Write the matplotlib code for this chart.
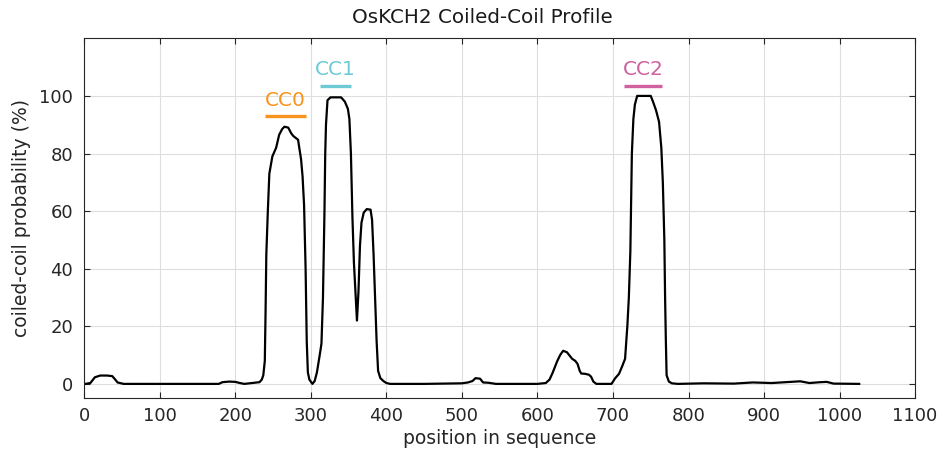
import numpy as np
import matplotlib
matplotlib.use("Agg")
import matplotlib.pyplot as plt

plt.rcParams['font.family'] = ['DejaVu Sans']

# coiled-coil probability profile
position = [1, 8, 14, 21, 30, 37, 41, 44, 52, 100, 150, 178, 183, 192, 200, 206, 212, 222, 232,
            235, 237, 239, 240, 241, 243, 245, 249, 254, 258, 262, 265, 270, 274, 277, 283, 287,
            289, 291, 293, 294.5, 296, 298, 302, 305, 308, 312, 314, 316, 318, 319, 320, 322, 326,
            340, 345, 349, 351, 353, 355, 357, 359, 361, 363, 365, 367, 370, 374, 379, 381, 383,
            385, 387, 389, 392, 396, 400, 405, 450, 500, 508, 514, 518, 524, 528, 535, 545, 600,
            611, 616, 620, 626, 630, 634, 639, 642, 646, 650, 653, 656, 658, 663, 668, 671, 674,
            678, 698, 703, 708, 712, 716, 719, 721, 723, 725, 727, 729, 732, 750, 753, 757, 761,
            764, 766, 768, 769, 770, 771, 774, 778, 786, 820, 860, 885, 910, 930, 948, 960, 975,
            983, 992, 1026]
probability = [0, 0.3, 2.3, 2.9, 2.9, 2.7, 1.5, 0.5, 0, 0, 0, 0, 0.6, 0.8, 0.7, 0.3, 0, 0.3, 0.6,
               1.5, 3, 8, 25, 45, 60, 73, 79, 82, 86.5, 88.5, 89.3, 89, 87, 86, 84.8, 78,
               72, 62, 40, 15, 4, 1.5, 0, 1, 4, 10.5, 14, 30, 60, 80, 90, 98.5, 99.5,
               99.5, 98, 95.5, 92, 80, 58, 42, 32, 22, 32, 48, 56, 59.5, 60.7, 60.5, 57, 45,
               30, 15, 4.5, 2, 1, 0.3, 0, 0, 0.2, 0.5, 1, 2, 1.8, 0.5, 0.4, 0, 0,
               0.3, 1.5, 3.8, 7.8, 10, 11.5, 11, 10, 8.7, 8, 7, 4.5, 3.6, 3.5, 3.2, 2.5, 0.8,
               0, 0, 2, 3.5, 6, 8.7, 20, 30, 46, 80, 92, 97, 100, 100, 98, 95, 91,
               82, 70, 50, 30, 15, 3, 0.8, 0.2, 0, 0.2, 0.1, 0.5, 0.3, 0.6, 0.9, 0.3, 0.6,
               0.7, 0.1, 0]

# annotated coiled-coil domains
cc_names = ['CC0', 'CC1', 'CC2']
cc_start = [239, 312, 715]
cc_end = [294, 353, 765]
cc_level = [93, 103.5, 103.5]
cc_colors = ['#F7941D', '#6DCBD5', '#D0609F']

fig = plt.figure(figsize=(9.43, 4.54), dpi=100)
ax = fig.add_axes([0.0894, 0.1227, 0.8810, 0.7929])

ax.plot(position, probability, color='black', lw=1.6, solid_joinstyle='round')

for name, s, e, lev, c in zip(cc_names, cc_start, cc_end, cc_level, cc_colors):
    ax.plot([s, e], [lev, lev], color=c, lw=2.4, solid_capstyle='butt')
    ax.text((s + e) / 2, lev + 3.6, name, color=c, fontsize=14.5,
            ha='center', va='baseline')

ax.set_xlim(0, 1100)
ax.set_ylim(-5, 120)
ax.set_xticks(np.arange(0, 1101, 100))
ax.set_yticks(np.arange(0, 101, 20))
ax.grid(True, color='#dedede', lw=0.8)
ax.set_axisbelow(True)
ax.tick_params(direction='in', length=4, width=0.8, top=True, right=True,
               labelsize=13, colors='#262626')
ax.tick_params(axis='x', pad=6)
ax.tick_params(axis='y', pad=8)
for sp in ax.spines.values():
    sp.set_color('#262626')
    sp.set_linewidth(0.8)

ax.set_xlabel('position in sequence', fontsize=13.5, color='#262626', labelpad=3)
ax.set_ylabel('coiled-coil probability (%)', fontsize=13.5, color='#262626', labelpad=6)
ax.set_title('OsKCH2 Coiled-Coil Profile', fontsize=14.3, color='#1a1a1a', pad=11, x=0.479)

fig.savefig('out.png', dpi=100)
